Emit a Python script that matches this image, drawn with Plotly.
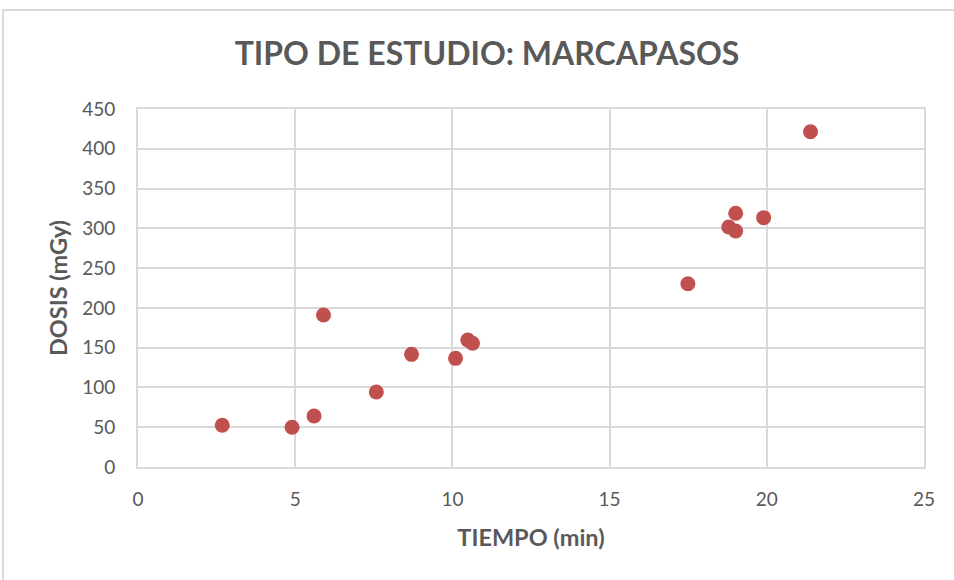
import plotly.graph_objects as go

# Tiempo de fluoroscopia (min) y dosis (mGy) por estudio
tiempo = [2.68, 4.90, 5.60, 5.90, 7.58, 8.70, 10.10, 10.49, 10.64,
          17.49, 18.79, 19.01, 19.01, 19.90, 21.39]
dosis = [52.4, 49.9, 64.1, 191, 94.3, 141.6, 136.6, 159.6, 155.5,
         230.4, 301.7, 318.9, 296.6, 313.4, 421.4]

x_ticks = [0, 5, 10, 15, 20, 25]
y_ticks = [0, 50, 100, 150, 200, 250, 300, 350, 400, 450]

FONT = "Lato, 'Open Sans', sans-serif"
TXT = "#595959"
GRID = "#d9d9d9"

fig = go.Figure(go.Scatter(
    x=tiempo, y=dosis, mode="markers",
    marker=dict(size=15, color="#C0504D", line=dict(width=0)),
    showlegend=False, hoverinfo="x+y",
))

fig.update_layout(
    width=954, height=580,
    margin=dict(l=138, r=30, t=109, b=113),
    paper_bgcolor="white", plot_bgcolor="white",
    font=dict(family=FONT, color=TXT, size=17),
    title=dict(text="<b>TIPO DE ESTUDIO: MARCAPASOS</b>",
               x=487 / 954, xref="container", xanchor="center",
               y=1 - 54 / 580, yref="container", yanchor="middle",
               font=dict(size=32, color=TXT, family=FONT)),
    xaxis=dict(range=[0, 25], tickvals=x_ticks, showgrid=True,
               gridcolor=GRID, gridwidth=2, zeroline=False,
               showline=True, linecolor=GRID, linewidth=2, mirror=True,
               ticks="", ticklabelstandoff=14,
               tickfont=dict(size=19, color=TXT),
               title=dict(text="<b>TIEMPO (min)</b>", standoff=21,
                          font=dict(size=23.5, color=TXT))),
    yaxis=dict(range=[0, 450], tickvals=y_ticks, showgrid=True,
               gridcolor=GRID, gridwidth=2, zeroline=False,
               showline=True, linecolor=GRID, linewidth=2, mirror=True,
               ticks="", ticklabelstandoff=17,
               tickfont=dict(size=19, color=TXT),
               title=dict(text="<b>DOSIS (mGy)</b>", standoff=8,
                          font=dict(size=23.5, color=TXT))),
    shapes=[dict(type="rect", xref="paper", yref="paper",
                 x0=-0.1718, x1=1.2, y0=-0.5, y1=1.2765,
                 line=dict(color=GRID, width=2), fillcolor="rgba(0,0,0,0)",
                 layer="below")],
)

fig.write_html("out.html")
